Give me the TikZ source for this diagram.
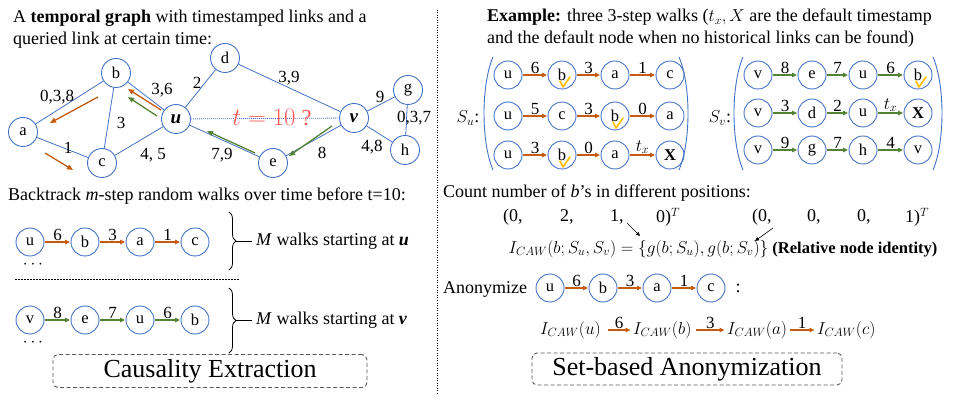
\documentclass[tikz,border=0pt]{standalone}
\usepackage{fontspec}
\setmainfont{Liberation Serif}
\usetikzlibrary{arrows.meta,decorations.pathreplacing}
\definecolor{nblue}{HTML}{4472C4}
\definecolor{ora}{HTML}{C55A11}
\definecolor{grn}{HTML}{548235}
\definecolor{chkc}{HTML}{FFC000}
\definecolor{tred}{HTML}{FF5B5B}
\definecolor{boxg}{HTML}{595959}
\newcommand\walkrow[5]{%
  \foreach \xx/\lab [count=\i] in {#3} {\node[nd] (#1\i) at (\xx,#2) {\lab};}
  \foreach \l [count=\i] in {#4} {\pgfmathtruncatemacro\j{\i+1}\draw[#5] (#1\i) -- node[lbl] {\l} (#1\j);}
}
\newcommand\chkmark[1]{\draw[chkc,line width=1.7pt,line cap=round,line join=round] ([shift={(-2,6)}]#1.center) -- ++(3,6) -- ++(7,-10);}
\begin{document}
\begin{tikzpicture}[x=1pt,y=-1pt,
  every node/.style={font=\fontsize{16}{19}\selectfont},
  nd/.style={circle,draw=nblue,line width=0.9pt,minimum size=28pt,inner sep=0pt,font=\fontsize{16.5}{16.5}\selectfont},
  gn/.style={nd,minimum size=29pt},
  ed/.style={draw=nblue,line width=0.8pt},
  oarr/.style={draw=ora,line width=1.3pt,-{Triangle[length=6pt,width=5pt]}},
  garr/.style={draw=grn,line width=1.3pt,-{Triangle[length=6pt,width=5pt]}},
  wo/.style={draw=ora,line width=1.1pt,shorten <=0.5pt,shorten >=0.5pt,-{Triangle[length=5pt,width=4.5pt]}},
  wg/.style={draw=grn,line width=1.1pt,shorten <=0.5pt,shorten >=0.5pt,-{Triangle[length=5pt,width=4.5pt]}},
  lbl/.style={above=0pt,inner sep=0.5pt,font=\fontsize{17}{17}\selectfont},
  el/.style={inner sep=0pt,font=\fontsize{17}{17}\selectfont},
  par/.style={draw=nblue,line width=0.9pt},
  dbox/.style={draw=boxg,dash pattern=on 4pt off 2.5pt,rounded corners=5pt,line width=0.9pt,inner sep=0pt,font=\fontsize{26}{26}\selectfont},
  txt/.style={anchor=base west,inner sep=0pt,font=\fontsize{18}{21}\selectfont},
  tx/.style={inner sep=0pt,font=\fontsize{18}{21}\selectfont}
]
\useasboundingbox (0,0) rectangle (975,403);

% ---------------- left: temporal graph ----------------
\node[txt] (t1) at (13,23) {A \textbf{temporal graph} with timestamped links and a};
\node[txt] (t2) at (13,45) {queried link at certain time:};

\node[gn] (a) at (23,132) {a};
\node[gn] (b) at (116,73) {b};
\node[gn] (c) at (102,163) {c};
\node[gn] (u) at (176,119) {\fontsize{19}{19}\selectfont\textbf{\textit{u}}};
\node[gn] (d) at (225,58) {d};
\node[gn] (v) at (354,118) {\fontsize{19}{19}\selectfont\textbf{\textit{v}}};
\node[gn] (e) at (273,163) {e};
\node[gn] (g) at (408,90) {g};
\node[gn] (h) at (405,150) {h};

\draw[ed] (a) -- (b);
\draw[ed] (a) -- (c);
\draw[ed] (b) -- (c);
\draw[ed] (b) -- (u);
\draw[ed] (u) -- (d);
\draw[ed] (u) -- (c);
\draw[ed] (u) -- (e);
\draw[ed] (d) -- (v);
\draw[ed] (v) -- (e);
\draw[ed] (v) -- (g);
\draw[ed] (g) -- (h);
\draw[ed] (v) -- (h);
\draw[draw=nblue,line width=0.8pt,dash pattern=on 1pt off 1pt] (u) -- (v);
\node[text=tred,inner sep=0pt,font=\fontsize{23}{23}\selectfont] (tq) at (272,118) {$t=10$ ?};

\node[el] (l1) at (57,97) {0,3,8};
\node[el] (l2) at (68,148) {1};
\node[el] (l3) at (121,123) {3};
\node[el] (l4) at (162,90) {3,6};
\node[el] (l5) at (197,83) {2};
\node[el] (l6) at (153,155) {4, 5};
\node[el] (l7) at (222,155) {7,9};
\node[el] (l8) at (289,78) {3,9};
\node[el] (l9) at (322,153) {8};
\node[el] (l10) at (380,97) {9};
\node[el] (l11) at (414,118) {0,3,7};
\node[el] (l12) at (372,147) {4,8};

\coordinate (o1s) at (98,97);  \coordinate (o1e) at (50,123);
\coordinate (o2s) at (45,153); \coordinate (o2e) at (73,170);
\coordinate (o3s) at (161,110); \coordinate (o3e) at (128,89);
\coordinate (g1s) at (157,116); \coordinate (g1e) at (128,97);
\coordinate (g2s) at (332,126); \coordinate (g2e) at (289,156);
\coordinate (g3s) at (255,153); \coordinate (g3e) at (207,131);
\draw[oarr] (o1s) -- (o1e);
\draw[oarr] (o2s) -- (o2e);
\draw[oarr] (o3s) -- (o3e);
\draw[garr] (g1s) -- (g1e);
\draw[garr] (g2s) -- (g2e);
\draw[garr] (g3s) -- (g3e);

% ---------------- left: walks ----------------
\node[txt] (bt) at (8,201) {Backtrack \textit{m}-step random walks over time before t=10:};
\walkrow{p}{242}{30/u,85/b,140/a,195/c}{6,3,1}{wo}
\node[inner sep=0pt] (dots1) at (33,265) {$\cdots$};
\walkrow{q}{320}{30/v,85/e,140/u,195/b}{8,7,6}{wg}
\node[inner sep=0pt] (dots2) at (33,343) {$\cdots$};
\draw[dash pattern=on 1.5pt off 1.5pt,line width=0.7pt] (15,279) -- (240,279);

\draw[decorate,decoration={brace,amplitude=7pt},line width=0.8pt] (229,212) -- (229,270);
\draw[line width=0.8pt] (236,241) -- (252,241);
\node[tx,anchor=west] (mu) at (256,241) {\textit{M} walks starting at \textbf{\textit{u}}};
\draw[decorate,decoration={brace,amplitude=7pt},line width=0.8pt] (229,288) -- (229,353);
\draw[line width=0.8pt] (236,320) -- (252,320);
\node[tx,anchor=west] (mv) at (256,320) {\textit{M} walks starting at \textbf{\textit{v}}};

\node[dbox,minimum width=314pt,minimum height=33pt] (ce) at (210,371) {Causality Extraction};

% separator
\draw[dash pattern=on 1pt off 1.5pt,line width=0.8pt] (437,10) -- (437,395);

% ---------------- right ----------------
\node[txt] (r1) at (487,22) {\textbf{Example:} three 3-step walks ($t_x, X$ are the default timestamp};
\node[txt] (r2) at (487,44) {and the default node when no historical links can be found)};

\node[tx] (su) at (468,118) {$S_u$:};
\draw[par] (493,57) .. controls (481,85) and (481,142) .. (493,170);
\draw[par] (679,57) .. controls (691,85) and (691,142) .. (679,170);
\walkrow{sa}{75}{508/u,562/b,615/a,670/c}{6,3,1}{wo}
\walkrow{sb}{116}{508/u,562/c,615/b,670/a}{5,3,0}{wo}
\walkrow{sc}{155}{508/u,562/b,615/a,670/\textbf{X}}{3,0,$t_x$}{wo}
\chkmark{sa2}
\chkmark{sb3}
\chkmark{sc2}

\node[tx] (sv) at (720,118) {$S_v$:};
\draw[par] (743,57) .. controls (731,85) and (731,142) .. (743,170);
\draw[par] (933,57) .. controls (945,85) and (945,142) .. (933,170);
\walkrow{va}{75}{758/v,812/e,863/u,918/b}{8,7,6}{wg}
\walkrow{vb}{113}{758/v,812/d,863/u,918/\textbf{X}}{3,2,$t_x$}{wg}
\walkrow{vc}{150}{758/v,812/g,863/h,918/v}{9,7,4}{wg}
\chkmark{va4}

\node[txt] (cnt) at (443,198) {Count number of \textit{b}'s in different positions:};
\node[tx,anchor=west] (x1) at (503,217) {(0,};
\node[tx,anchor=west] (x2) at (560,217) {2,};
\node[tx,anchor=west] (x3) at (610,217) {1,};
\node[tx,anchor=west] (x4) at (656,217) {0)$^T$};
\node[tx,anchor=west] (y1) at (752,217) {(0,};
\node[tx,anchor=west] (y2) at (807,217) {0,};
\node[tx,anchor=west] (y3) at (857,217) {0,};
\node[tx,anchor=west] (y4) at (905,217) {1)$^T$};
\coordinate (k1s) at (627,223); \coordinate (k1e) at (640,236);
\coordinate (k2s) at (773,228); \coordinate (k2e) at (755,241);
\draw[line width=0.6pt,-{Triangle[length=4pt,width=3.5pt]}] (k1s) -- (k1e);
\draw[line width=0.6pt,-{Triangle[length=4pt,width=3.5pt]}] (k2s) -- (k2e);

\node[inner sep=0pt,font=\fontsize{16.5}{19}\selectfont] (eq) at (723,249) {$I_{CAW}(b;S_u,S_v)=\{g(b;S_u),g(b;S_v)\}$ \textbf{(Relative node identity)}};

\node[txt] (an) at (443,294) {Anonymize};
\walkrow{an}{288}{550/u,603/b,657/a,711/c}{6,3,1}{wo}
\node[tx] (colon) at (738,288) {:};

\node[anchor=west,inner sep=2pt,font=\fontsize{16.5}{19}\selectfont] (i1) at (538,330) {$I_{CAW}(u)$};
\node[anchor=west,inner sep=2pt,font=\fontsize{16.5}{19}\selectfont] (i2) at (631,330) {$I_{CAW}(b)$};
\node[anchor=west,inner sep=2pt,font=\fontsize{16.5}{19}\selectfont] (i3) at (725,330) {$I_{CAW}(a)$};
\node[anchor=west,inner sep=2pt,font=\fontsize{16.5}{19}\selectfont] (i4) at (815,330) {$I_{CAW}(c)$};
\draw[wo] ([xshift=4pt]i1.east) -- node[lbl] {6} (i2.west);
\draw[wo] ([xshift=2pt]i2.east) -- node[lbl] {3} (i3.west);
\draw[wo] (i3.east) -- node[lbl] {1} (i4.west);

\node[dbox,minimum width=310pt,minimum height=32pt] (sa) at (687,369) {Set-based Anonymization};
\end{tikzpicture}
\end{document}
